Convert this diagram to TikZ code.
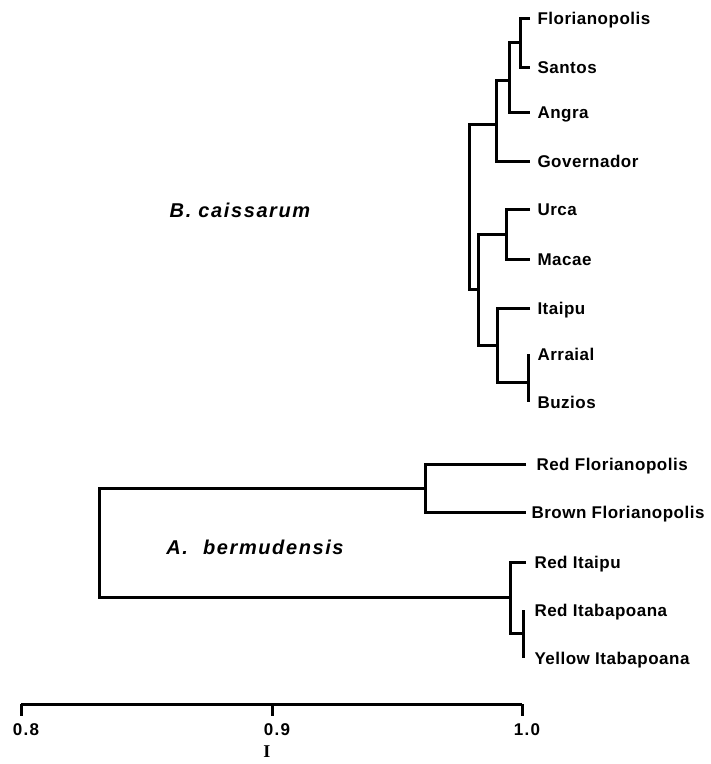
\documentclass[tikz,border=0pt]{standalone}
\usepackage{fontspec}
\setmainfont{Liberation Sans}
\newfontfamily\tipfont[LetterSpace=3]{Liberation Sans}
\newfontfamily\spfont[LetterSpace=8]{Liberation Sans}
\newfontfamily\serifb{Liberation Serif}
\usetikzlibrary{positioning}

\tikzset{
  tip/.style={anchor=west,inner xsep=6pt,inner ysep=0pt,text height=12.2pt,text depth=0pt,
    font=\tipfont\bfseries\fontsize{17}{17}\selectfont},
  species/.style={inner sep=0pt,font=\spfont\bfseries\itshape\fontsize{20}{20}\selectfont},
  scalelab/.style={inner sep=0pt,font=\spfont\bfseries\fontsize{17}{17}\selectfont}
}

\begin{document}
\begin{tikzpicture}[x=1pt,y=-1pt,line width=3pt]
     \useasboundingbox (0,0) rectangle (711,764);

     % B. caissarum
     \node[tip] (flo) at (530,18)  {Florianopolis};
     \node[tip] (san) at (530,67)  {Santos};
     \node[tip] (ang) at (530,112) {Angra};
     \node[tip] (gov) at (530,161) {Governador};
     \node[tip] (urc) at (530,209) {Urca};
     \node[tip] (mac) at (530,259) {Macae};
     \node[tip] (ita) at (530,308) {Itaipu};
     \node[tip,inner xsep=8pt] (arr) at (528,354) {Arraial};
     \node[tip,inner xsep=8pt] (buz) at (528,402) {Buzios};

     \coordinate (fs)    at (520,42);
     \coordinate (angn)  at (509,80);
     \coordinate (govn)  at (496,124);
     \coordinate (um)    at (506,234);
     \coordinate (arbu)  at (528,382);
     \coordinate (itn)   at (497,345);
     \coordinate (ump)   at (478,289);
     \coordinate (rootb) at (469,200);

     \draw (flo.west) -| (fs) |- (san.west);
     \draw (fs) -| (angn) |- (ang.west);
     \draw (angn) -| (govn) |- (gov.west);
     \draw (urc.west) -| (um) |- (mac.west);
     \draw (arr.west) -- (buz.west);
     \draw (ita.west) -| (itn) |- (arbu);
     \draw (um) -| (ump) |- (itn);
     \draw (govn) -| (rootb) |- (ump);

     \node[species] (bcai) at (240,210) {B. caissarum};

     % A. bermudensis
     \node[tip,inner xsep=9pt]  (rfl) at (526,464) {Red Florianopolis};
     \node[tip,inner xsep=4pt]  (bfl) at (526,512) {Brown Florianopolis};
     \node[tip,inner xsep=7pt]  (rit) at (526,562) {Red Itaipu};
     \node[tip,inner xsep=10pt] (rib) at (523,610) {Red Itabapoana};
     \node[tip,inner xsep=10pt] (yib) at (523,658) {Yellow Itabapoana};

     \coordinate (rf)    at (425,488);
     \coordinate (itb)   at (523,633);
     \coordinate (ri)    at (510,597);
     \coordinate (roota) at (99,540);

     \draw (rfl.west) -| (rf) |- (bfl.west);
     \draw (rib.west) -- (yib.west);
     \draw (rit.west) -| (ri) |- (itb);
     \draw (rf) -| (roota) |- (ri);

     \node[species] (aber) at (255,547) {A.\hspace{8pt} bermudensis};

     % scale
     \coordinate (s08) at (21,704);
     \coordinate (s10) at (522,704);
     \draw (s08) -- (s10);
     \foreach \v/\x in {0.8/21,0.9/272,1.0/522} {
       \draw (\x,704) -- (\x,716);
       \node[scalelab] (t\x) at (\x+5,730) {\v};
     }
     \node[inner sep=0pt,font=\serifb\bfseries\fontsize{18}{18}\selectfont] (ilab) at (267,752) {I};
\end{tikzpicture}
\end{document}
